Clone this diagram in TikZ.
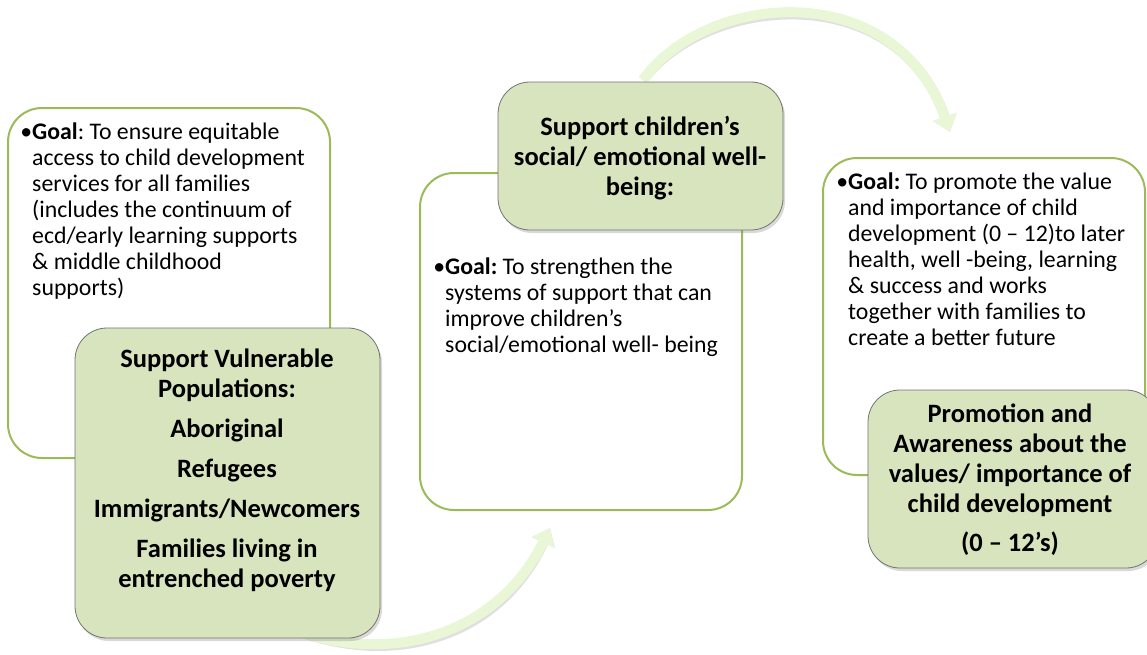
\documentclass[tikz,border=0pt]{standalone}
\usepackage{fontspec}
\setmainfont{Carlito}
\frenchspacing
\usetikzlibrary{arrows.meta,shadows}
\definecolor{bord}{HTML}{9BBB59}
\definecolor{gfill}{HTML}{D7E4BD}
\definecolor{arr}{HTML}{EAF7D6}
\tikzset{
  goalbox/.style={draw=bord, line width=2pt, rounded corners=34pt, fill=white, inner sep=0pt},
  titlebox/.style={draw=black!55, line width=0.8pt, fill=gfill, rounded corners=32pt, inner sep=0pt,
    drop shadow={shadow xshift=2pt, shadow yshift=-3pt, opacity=0.3}},
  goaltext/.style={anchor=north west, inner sep=0pt, align=left, font=\fontsize{23.8}{26}\selectfont\frenchspacing},
  titletext/.style={align=center, inner sep=0pt, font=\fontsize{26.5}{30}\selectfont\bfseries},
  flow/.style={line width=10pt, draw=arr, -{Triangle[width=24pt,length=16pt]}},
  flowshadow/.style={line width=10pt, draw=black, opacity=0.12, -{Triangle[width=24pt,length=16pt]}}
}
\begin{document}
\begin{tikzpicture}[x=1pt,y=-1pt]
\useasboundingbox (0,0) rectangle (1147,654);
% goal boxes
\node[goalbox, minimum width=322pt, minimum height=350pt] (g1) at (169,283) {};
\node[goalbox, minimum width=322pt, minimum height=337pt] (g2) at (581,341.5) {};
\node[goalbox, minimum width=322pt, minimum height=317pt] (g3) at (984,316.5) {};
% goal texts
\node[goaltext] (t1) at (32,123) {\llap{\textbullet}\textbf{Goal}: To ensure equitable\\access to child development\\services for all families\\(includes the continuum of\\ecd/early learning supports\\\& middle childhood\\supports)};
\node[goaltext] (t2) at (445,258) {\llap{\textbullet}\textbf{Goal:} To strengthen the\\systems of support that can\\improve children’s\\social/emotional well- being};
\node[goaltext] (t3) at (848,173) {\llap{\textbullet}\textbf{Goal:} To promote the value\\and importance of child\\development (0 – 12)to later\\health, well -being, learning\\\& success and works\\together with families to\\create a better future};
% flow arrows
\coordinate (a1s) at (300,632);
\coordinate (a1e) at (550,528);
\coordinate (a2s) at (643,80);
\coordinate (a2e) at (950,132);
\draw[flowshadow, shift={(2,3)}] (a1s) .. controls (400,665) and (500,630) .. (a1e);
\draw[flow] (a1s) .. controls (400,665) and (500,630) .. (a1e);
\draw[flowshadow, shift={(2,3)}] (a2s) .. controls (705,-8) and (895,-25) .. (a2e);
\draw[flow] (a2s) .. controls (705,-8) and (895,-25) .. (a2e);
% title boxes
\node[titlebox, minimum width=305pt, minimum height=310pt] (b1) at (227.5,483) {};
\node[titlebox, minimum width=285pt, minimum height=148pt] (b2) at (640.5,156) {};
\node[titlebox, minimum width=290pt, minimum height=178pt] (b3) at (1013,479) {};
\node[titletext] (l1) at (227,470) {Support Vulnerable\\Populations:\\[10pt]Aboriginal\\[10pt]Refugees\\[10pt]Immigrants/Newcomers\\[10pt]Families living in\\entrenched poverty};
\node[titletext] (l2) at (640,158) {Support children’s\\social/ emotional well-\\being:};
\node[titletext] (l3) at (1010,480) {Promotion and\\Awareness about the\\values/ importance of\\child development\\[9pt](0 – 12’s)};
\end{tikzpicture}
\end{document}
